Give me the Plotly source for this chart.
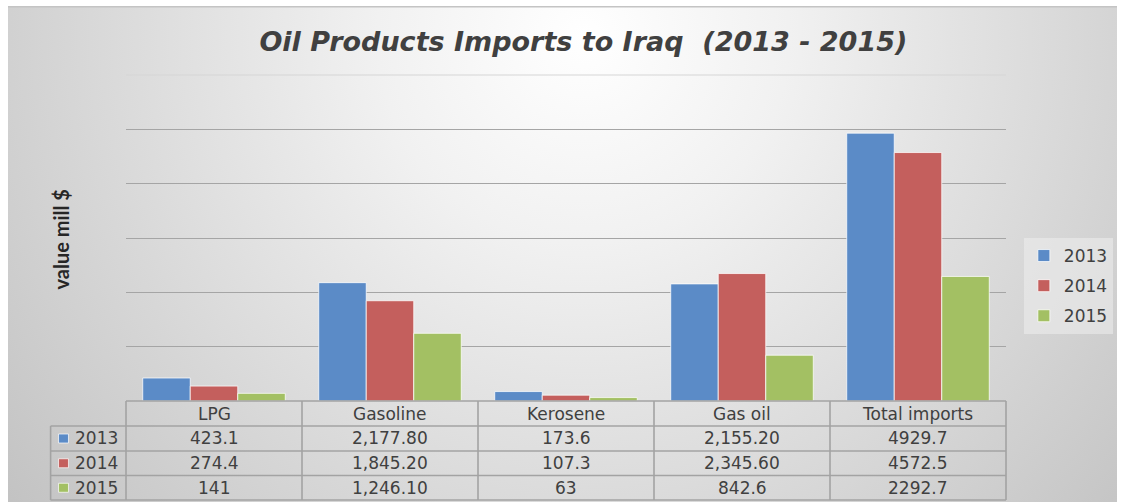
import base64
import plotly.graph_objects as go

# ---------------- data ----------------
categories = ["LPG", "Gasoline", "Kerosene", "Gas oil", "Total imports"]
years = ["2013", "2014", "2015"]
values_2013 = [423.1, 2177.8, 173.6, 2155.2, 4929.7]
values_2014 = [274.4, 1845.2, 107.3, 2345.6, 4572.5]
values_2015 = [141, 1246.1, 63, 842.6, 2292.7]
table_2013 = ["423.1", "2,177.80", "173.6", "2,155.20", "4929.7"]
table_2014 = ["274.4", "1,845.20", "107.3", "2,345.60", "4572.5"]
table_2015 = ["141", "1,246.10", "63", "842.6", "2292.7"]
y_grid = [1000, 2000, 3000, 4000, 5000]

series_values = [values_2013, values_2014, values_2015]
series_table = [table_2013, table_2014, table_2015]
colors = ["#5b8bc7", "#c45f5d", "#a3c063"]

# ---------------- geometry (page pixels; body margin removed) ----------------
W, H = 1125, 502
L, R, T, B = 126, 1013, 75, 401          # plot area edges
PW, PH = R - L, B - T
BG_X, BG_Y = 7, 6                         # start of the grey chart area


def px(x):
    return (x - L) / PW


def py(y):
    return (B - y) / PH


TEXT = "#404040"
LINE = "#a3a3a3"
FONT = "DejaVu Sans"

fig = go.Figure()
for name, vals, col in zip(years, series_values, colors):
    fig.add_bar(
        name=name, x=categories, y=vals, legendgroup=name,
        marker=dict(color=col, line=dict(color="rgba(255,255,255,0.75)", width=1)),
    )

# background gradient as an svg image
bw, bh = W - BG_X, H - BG_Y
svg = f"""<svg xmlns='http://www.w3.org/2000/svg' width='{bw}' height='{bh}' viewBox='0 0 {bw} {bh}' preserveAspectRatio='none'>
<defs><radialGradient id='g' gradientUnits='userSpaceOnUse' cx='580' cy='30' r='740'>
<stop offset='0' stop-color='#ffffff'/><stop offset='0.28' stop-color='#f1f1f1'/><stop offset='1' stop-color='#c3c3c3'/>
</radialGradient></defs>
<rect x='0' y='0' width='{bw}' height='{bh}' fill='url(#g)'/>
<line x1='0' y1='0.75' x2='{bw}' y2='0.75' stroke='#c4c4c4' stroke-width='1.5'/>
</svg>"""
src = "data:image/svg+xml;base64," + base64.b64encode(svg.encode()).decode()

shapes = []
annotations = []

# lighter top gridline
shapes.append(dict(type="line", xref="paper", yref="paper", x0=0, x1=1, y0=1, y1=1,
                   line=dict(color="#d6d6d6", width=1.2)))

# ---------------- data table ----------------
col_edges = [L + i * PW / len(categories) for i in range(len(categories) + 1)]
row_edges = [401, 426, 451, 475.5, 500]
rh_left = 50


def hline(y, x0, x1):
    shapes.append(dict(type="line", xref="paper", yref="paper", x0=px(x0), x1=px(x1),
                       y0=py(y), y1=py(y), line=dict(color=LINE, width=1.6)))


def vline(x, y0, y1):
    shapes.append(dict(type="line", xref="paper", yref="paper", x0=px(x), x1=px(x),
                       y0=py(y0), y1=py(y1), line=dict(color=LINE, width=1.6)))


hline(row_edges[0], L, R)
for y in row_edges[1:]:
    hline(y, rh_left, R)
for x in col_edges:
    vline(x, row_edges[0], row_edges[-1])
vline(rh_left, row_edges[1], row_edges[-1])

# header row
hy = (row_edges[0] + row_edges[1]) / 2
for i, cat in enumerate(categories):
    cx = (col_edges[i] + col_edges[i + 1]) / 2
    annotations.append(dict(xref="paper", yref="paper", x=px(cx), y=py(hy), text=cat,
                            showarrow=False, xanchor="center", yanchor="middle",
                            font=dict(family=FONT, size=17, color=TEXT)))

# data rows
for r, (name, labels, col) in enumerate(zip(years, series_table, colors)):
    cy = (row_edges[r + 1] + row_edges[r + 2]) / 2
    shapes.append(dict(type="rect", xref="paper", yref="paper",
                       x0=px(58), x1=px(68), y0=py(cy - 4.5), y1=py(cy + 4.5),
                       fillcolor=col, line=dict(color="rgba(255,255,255,0.7)", width=1)))
    annotations.append(dict(xref="paper", yref="paper", x=px(73), y=py(cy), text=name,
                            showarrow=False, xanchor="left", yanchor="middle",
                            font=dict(family=FONT, size=17, color=TEXT)))
    for i, lab in enumerate(labels):
        cx = (col_edges[i] + col_edges[i + 1]) / 2
        annotations.append(dict(xref="paper", yref="paper", x=px(cx), y=py(cy), text=lab,
                                showarrow=False, xanchor="center", yanchor="middle",
                                font=dict(family=FONT, size=17, color=TEXT)))

# y axis title
annotations.append(dict(xref="paper", yref="paper", x=px(60), y=py(240), text="<b>value mill $</b>",
                        textangle=-90, showarrow=False, xanchor="center", yanchor="middle",
                        font=dict(family="Lato", size=20, color="#262626")))

fig.update_layout(
    width=W, height=H,
    margin=dict(l=L, r=W - R, t=T, b=H - B, pad=0),
    paper_bgcolor="white",
    plot_bgcolor="rgba(0,0,0,0)",
    bargap=0.19, bargroupgap=0,
    title=dict(text="Oil Products Imports to Iraq  (2013 - 2015)",
               xref="paper", x=px(587), xanchor="center",
               yref="container", y=1 - 42 / H, yanchor="middle",
               font=dict(family="DejaVu Sans", size=27, color=TEXT, weight="bold", style="italic")),
    xaxis=dict(showticklabels=False, showgrid=False, showline=False, zeroline=False,
               fixedrange=True),
    yaxis=dict(range=[0, 6000], tickvals=y_grid, showticklabels=False, showgrid=True,
               gridcolor="#a5a5a5", gridwidth=1.2, zeroline=False, showline=False),
    legend=dict(x=px(1031), xanchor="left", y=py(238), yanchor="top",
                bgcolor="rgba(238,238,238,0.55)", traceorder="grouped", tracegroupgap=5,
                font=dict(family=FONT, size=17, color=TEXT), itemwidth=30),
    images=[dict(source=src, xref="paper", yref="paper", x=px(BG_X), y=py(BG_Y),
                 sizex=bw / PW, sizey=bh / PH, sizing="stretch",
                 layer="below", xanchor="left", yanchor="top")],
    shapes=shapes,
    annotations=annotations,
    showlegend=True,
)

fig.write_html(
    "out.html",
    config={"displayModeBar": False},
    post_script="document.body.style.margin='0';document.body.style.overflow='hidden';",
)
